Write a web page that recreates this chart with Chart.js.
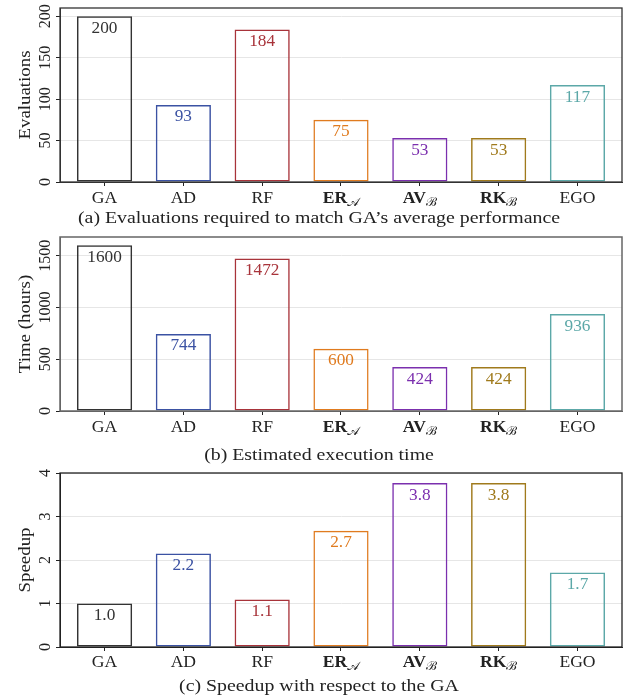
<!DOCTYPE html>
<html><head><meta charset="utf-8">
<script src="https://cdn.jsdelivr.net/npm/chart.js@4.4.1/dist/chart.umd.min.js"></script>
<style>
html,body{margin:0;padding:0;background:#fff;}
#wrap{position:relative;width:627px;height:698px;overflow:hidden;}
canvas{position:absolute;left:0;}
</style></head><body>
<div id="wrap">
<canvas id="c1" width="627" height="230" style="top:0px"></canvas>
<canvas id="c2" width="627" height="235" style="top:230px"></canvas>
<canvas id="c3" width="627" height="233" style="top:465px"></canvas>
</div>
<script>
// ---- data ----
const categories = ['GA','AD','RF','ER','AV','RK','EGO'];
const categorySubscripts = ['','','','𝒜','ℬ','ℬ',''];
const boldCategories = [false,false,false,true,true,true,false];
const evaluations = [200,93,184,75,53,53,117];
const evaluationLabels = ['200','93','184','75','53','53','117'];
const timeHours = [1600,744,1472,600,424,424,936];
const timeLabels = ['1600','744','1472','600','424','424','936'];
const speedup = [1.0,2.15,1.09,2.67,3.77,3.77,1.71];
const speedupLabels = ['1.0','2.2','1.1','2.7','3.8','3.8','1.7'];
const evalTicks = [0,50,100,150,200];
const timeTicks = [0,500,1000,1500];
const speedTicks = [0,1,2,3,4];
const yTitles = ['Evaluations','Time (hours)','Speedup'];
const captions = [
  '(a) Evaluations required to match GA\u2019s average performance',
  '(b) Estimated execution time',
  '(c) Speedup with respect to the GA'
];
const colors = ['#333333','#3b52a3','#a8333a','#e07b1f','#7b2fae','#a07a1c','#5ca8a8'];

const SERIF = '"Liberation Serif","DejaVu Serif",serif';

function stretchText(ctx, text, x, y, font, sx, align) {
  ctx.save();
  ctx.translate(x, y);
  ctx.scale(sx, 1);
  ctx.font = font;
  ctx.textAlign = align || 'center';
  ctx.fillText(text, 0, 0);
  ctx.restore();
}

const textPlugin = {
  id: 'texts',
  afterDraw(chart) {
    const cfg = chart.options.plugins.texts;
    const {ctx, chartArea: a} = chart;
    const xs = chart.scales.x, ys = chart.scales.y;
    ctx.save();
    // frame
    ctx.strokeStyle = cfg.frameColor;
    ctx.lineWidth = cfg.frameWidth;
    ctx.strokeRect(a.left, a.top, a.right - a.left, a.bottom - a.top);
    ctx.textBaseline = 'alphabetic';
    // value labels
    const meta = chart.getDatasetMeta(0);
    meta.data.forEach((bar, i) => {
      ctx.fillStyle = colors[i];
      stretchText(ctx, cfg.valueLabels[i], bar.x, bar.y + 16.5, '16px ' + SERIF, 1.08);
    });
    // y tick labels (rotated)
    ctx.fillStyle = '#222';
    cfg.yTicks.forEach(v => {
      const py = ys.getPixelForValue(v);
      ctx.save();
      ctx.translate(a.left - 10, py);
      ctx.rotate(-Math.PI / 2);
      stretchText(ctx, String(v), 0, 0, '16px ' + SERIF, 1.0);
      ctx.restore();
    });
    // y title
    ctx.save();
    ctx.translate(30, (a.top + a.bottom) / 2);
    ctx.rotate(-Math.PI / 2);
    stretchText(ctx, cfg.yTitle, 0, 0, '16px ' + SERIF, 1.18);
    ctx.restore();
    // x tick labels
    categories.forEach((c, i) => {
      const px = xs.getPixelForValue(i);
      const mainFont = (boldCategories[i] ? 'bold ' : '') + '16px ' + SERIF;
      const subFont = '12px ' + SERIF;
      const sx = 1.1;
      ctx.font = mainFont;
      const w1 = ctx.measureText(c).width * sx;
      let w2 = 0;
      if (categorySubscripts[i]) { ctx.font = subFont; w2 = ctx.measureText(categorySubscripts[i]).width * sx; }
      const start = px - (w1 + w2) / 2;
      const by = a.bottom + cfg.xLabelOffset;
      stretchText(ctx, c, start, by, mainFont, sx, 'left');
      if (categorySubscripts[i]) stretchText(ctx, categorySubscripts[i], start + w1, by + 3, subFont, sx, 'left');
    });
    // caption
    stretchText(ctx, cfg.caption, 319, cfg.captionY, '16px ' + SERIF, 1.24);
    ctx.restore();
  }
};

function makeChart(id, values, valueLabels, yMax, yTicks, yTitle, caption, pad, captionY, xLabelOffset, frameColor, frameWidth) {
  return new Chart(document.getElementById(id), {
    type: 'bar',
    data: {
      datasets: [{
        data: values.map((v, i) => ({x: i, y: v})),
        backgroundColor: 'rgba(255,255,255,0)',
        borderColor: colors,
        borderWidth: 1.5,
        borderSkipped: false,
        barPercentage: 0.7,
        categoryPercentage: 1.0
      }]
    },
    options: {
      responsive: false,
      animation: false,
      events: [],
      layout: {padding: pad},
      plugins: {
        legend: {display: false},
        tooltip: {enabled: false},
        texts: {valueLabels, yTicks, yTitle, caption, captionY, xLabelOffset, frameColor, frameWidth}
      },
      scales: {
        x: {
          type: 'linear',
          offset: false,
          min: -0.565, max: 6.565,
          afterBuildTicks: s => { s.ticks = categories.map((_, i) => ({value: i})); },
          afterFit: s => { s.height = 0; },
          ticks: {display: false},
          grid: {offset: false, drawOnChartArea: false, drawTicks: true, tickLength: 4, tickColor: '#222', tickWidth: 1},
          border: {display: true, color: frameColor}
        },
        y: {
          min: 0, max: yMax,
          afterBuildTicks: s => { s.ticks = yTicks.map(v => ({value: v})); },
          afterFit: s => { s.width = 0; },
          ticks: {display: false},
          grid: {color: '#e6e6e6', lineWidth: 1, drawTicks: true, tickLength: 4, tickColor: '#222', tickWidth: 1},
          border: {display: true, color: frameColor}
        }
      }
    },
    plugins: [textPlugin]
  });
}

makeChart('c1', evaluations, evaluationLabels, 210, evalTicks, yTitles[0], captions[0],
  {left: 60, right: 5, top: 8, bottom: 48}, 223, 21, '#333', 1.3);
makeChart('c2', timeHours, timeLabels, 1680, timeTicks, yTitles[1], captions[1],
  {left: 60, right: 5, top: 7, bottom: 54}, 230, 21, '#666', 1.5);
makeChart('c3', speedup, speedupLabels, 4, speedTicks, yTitles[2], captions[2],
  {left: 60, right: 5, top: 8, bottom: 51}, 226, 20, '#222', 1.3);
</script>
</body></html>
